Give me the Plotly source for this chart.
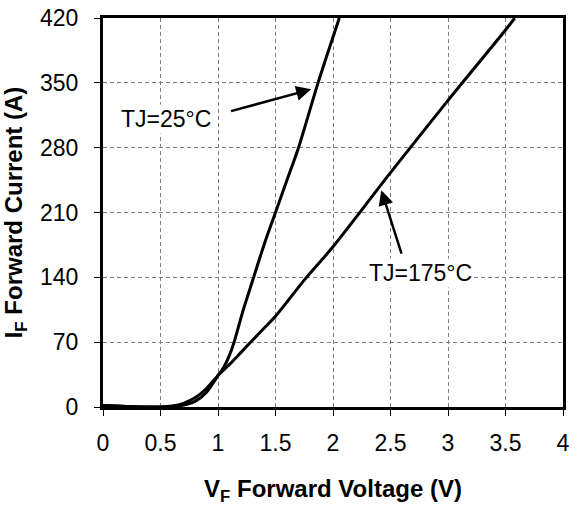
import plotly.graph_objects as go

# Forward characteristic
vf_25 = [0.0, 0.2, 0.5, 0.6, 0.7, 0.8, 0.9, 1.0, 1.05, 1.1, 1.14, 1.22, 1.31, 1.4, 1.5, 1.6, 1.7, 1.87, 2.055]
if_25 = [1.5, 0.5, 0.0, 0.5, 2, 6, 16, 34, 43, 56, 70, 105, 140, 175, 210, 245, 280, 350, 420]

vf_175 = [0.0, 0.2, 0.5, 0.6, 0.7, 0.8, 0.9, 1.0, 1.1, 1.2, 1.3, 1.4, 1.5, 1.75, 2.0, 2.5, 3.0, 3.5, 3.58]
if_175 = [1.5, 0.5, 0.0, 1, 4, 10, 20, 34, 46, 59, 72, 85, 98, 137, 173, 253, 331, 407, 420]

x_ticks = [0, 0.5, 1, 1.5, 2, 2.5, 3, 3.5, 4]
y_ticks = [0, 70, 140, 210, 280, 350, 420]

font = "Liberation Sans, Arial, sans-serif"

fig = go.Figure()
fig.add_trace(go.Scatter(x=vf_25, y=if_25, mode="lines", line=dict(color="black", width=3),
                         line_shape="spline", line_smoothing=0.8, name="TJ=25°C"))
fig.add_trace(go.Scatter(x=vf_175, y=if_175, mode="lines", line=dict(color="black", width=3),
                         line_shape="spline", line_smoothing=0.8, name="TJ=175°C"))

grid = dict(showgrid=True, gridcolor="#7f7f7f", gridwidth=1, griddash="4px,3px",
            showline=True, linecolor="black", linewidth=3, mirror=True,
            ticks="outside", ticklen=6, tickcolor="black", tickwidth=1,
            ticklabeloverflow="allow", automargin=False,
            zeroline=False, tickfont=dict(family=font, size=23, color="black"))

fig.update_xaxes(range=[0, 4], tickvals=x_ticks, ticktext=[f"{v:g}" for v in x_ticks],
                 ticklabelstandoff=7,
                 title=dict(text="<b>V<sub>F</sub> Forward Voltage (V)</b>",
                            font=dict(family=font, size=24, color="black"), standoff=26),
                 **grid)
fig.update_yaxes(range=[0, 420], tickvals=y_ticks, ticklabelstandoff=11,
                 title=dict(text="<b>I<sub>F</sub> Forward Current (A)</b>",
                            font=dict(family=font, size=24, color="black"), standoff=12),
                 **grid)

# labels
fig.add_annotation(x=0.55, y=311, text="TJ=25°C", showarrow=False, bgcolor="white",
                   font=dict(family=font, size=23, color="black"))
fig.add_annotation(x=2.76, y=145, text="TJ=175°C", showarrow=False, bgcolor="white",
                   font=dict(family=font, size=23, color="black"))
# arrows
fig.add_annotation(x=1.81, y=343, ax=1.10, ay=319, axref="x", ayref="y", text="",
                   showarrow=True, arrowhead=2, arrowsize=1.2, arrowwidth=2.5, arrowcolor="black")
fig.add_annotation(x=2.42, y=234, ax=2.60, ay=164, axref="x", ayref="y", text="",
                   showarrow=True, arrowhead=2, arrowsize=1.2, arrowwidth=2.5, arrowcolor="black")

fig.update_layout(width=580, height=511, showlegend=False,
                  margin=dict(l=103, r=17, t=18, b=104),
                  plot_bgcolor="white", paper_bgcolor="white",
                  font=dict(family=font, color="black"))

# drop the default 8px body margin so the figure sits at the window corner
fig.write_html("out.html", config={"displayModeBar": False},
               post_script="document.body.style.margin='0';")
